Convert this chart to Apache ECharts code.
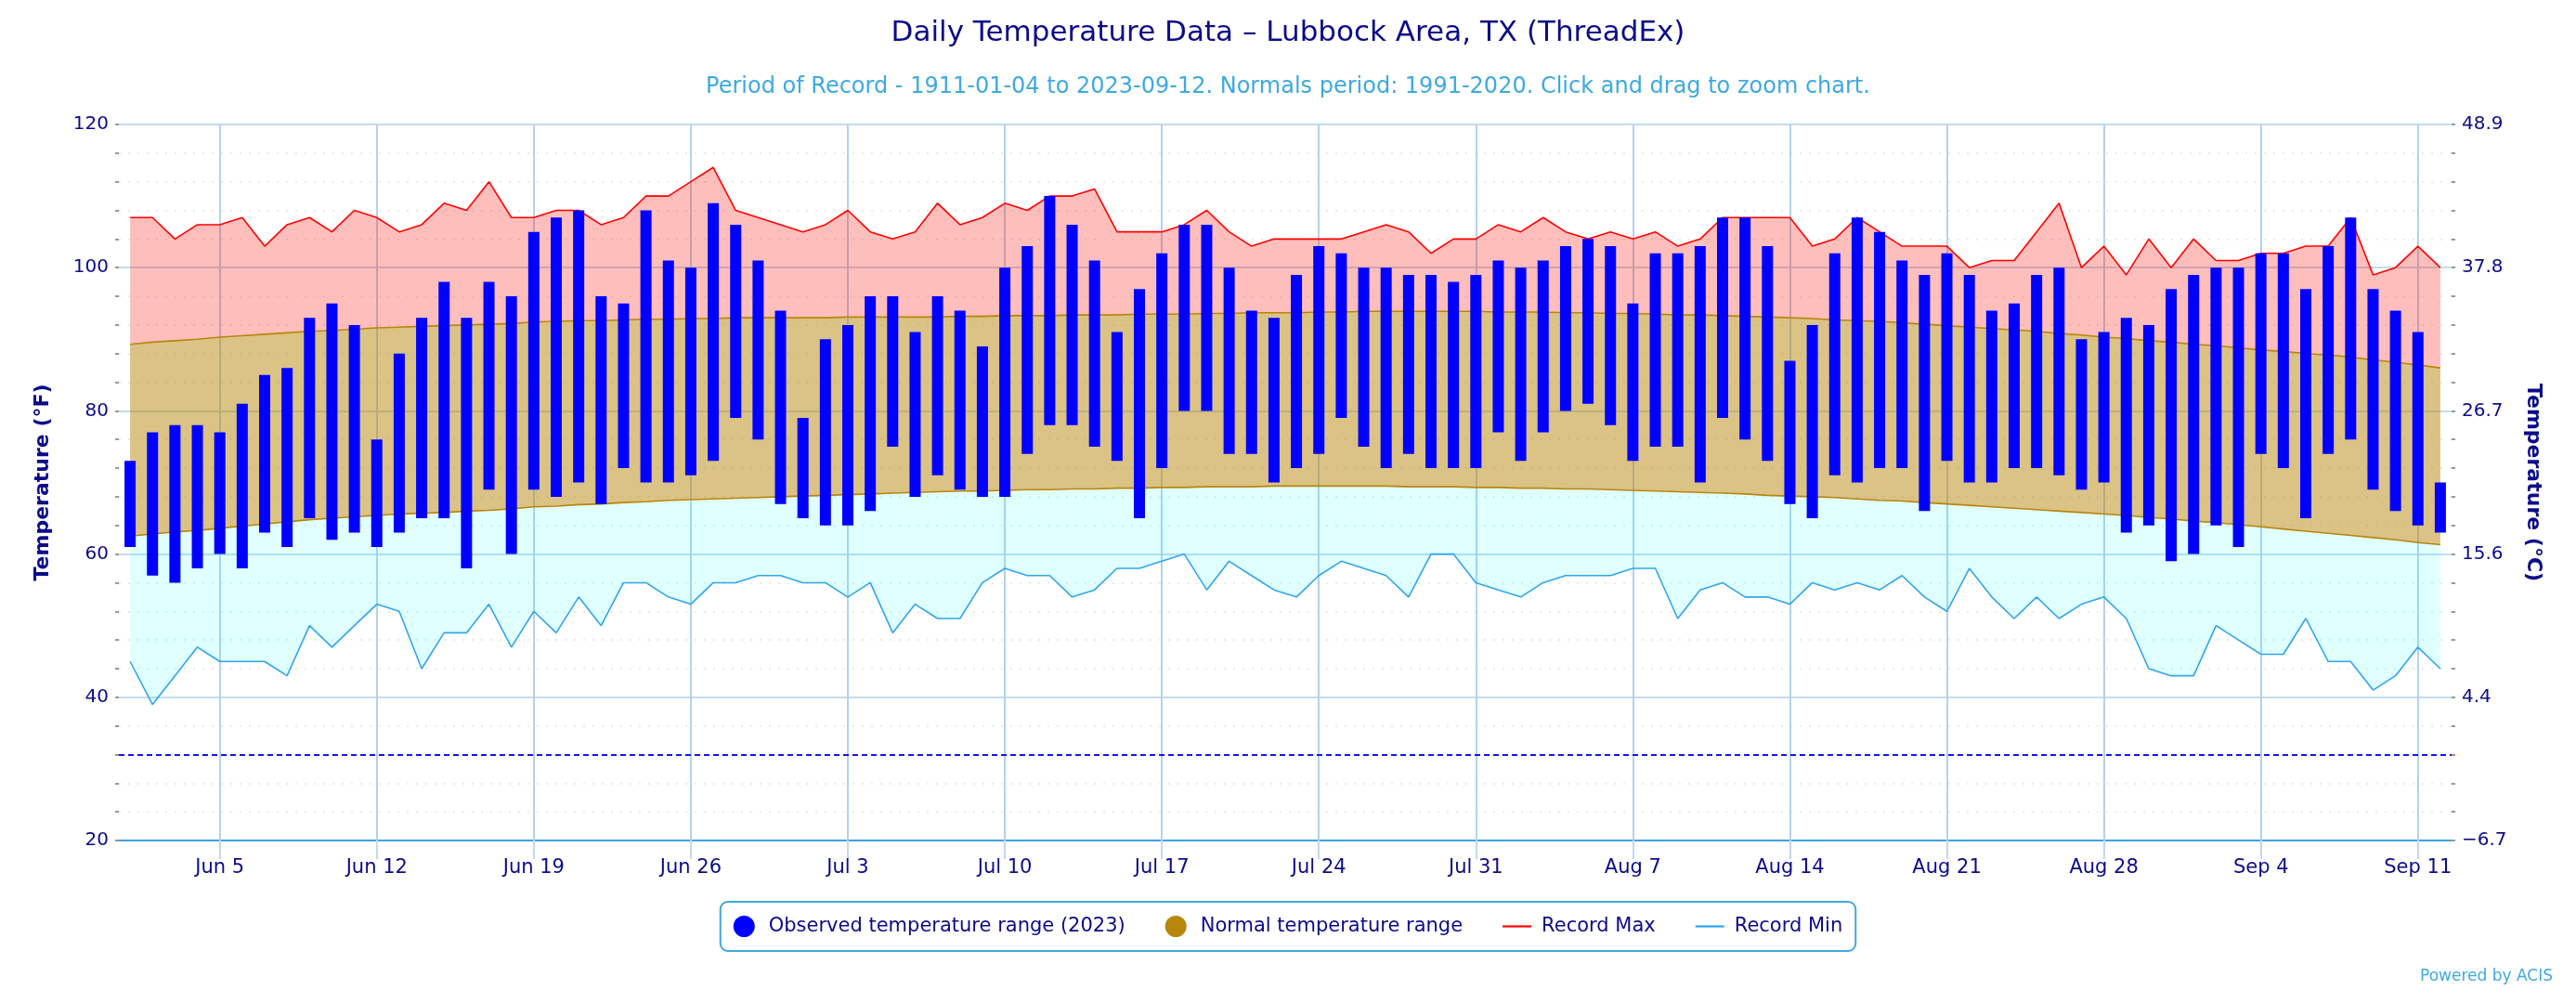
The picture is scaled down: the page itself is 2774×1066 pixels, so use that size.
<!DOCTYPE html>
<html><head><meta charset="utf-8">
<script src="https://cdn.jsdelivr.net/npm/echarts@6/dist/echarts.min.js"></script>
<style>html,body{margin:0;padding:0;background:#fff}#c{width:2774px;height:1066px}</style>
</head><body><div id="c"></div>
<script>
const categories = [
'Jun 1','Jun 2','Jun 3','Jun 4','Jun 5','Jun 6','Jun 7','Jun 8','Jun 9','Jun 10','Jun 11','Jun 12','Jun 13','Jun 14','Jun 15','Jun 16','Jun 17','Jun 18','Jun 19','Jun 20','Jun 21','Jun 22','Jun 23','Jun 24','Jun 25','Jun 26','Jun 27','Jun 28','Jun 29','Jun 30',
'Jul 1','Jul 2','Jul 3','Jul 4','Jul 5','Jul 6','Jul 7','Jul 8','Jul 9','Jul 10','Jul 11','Jul 12','Jul 13','Jul 14','Jul 15','Jul 16','Jul 17','Jul 18','Jul 19','Jul 20','Jul 21','Jul 22','Jul 23','Jul 24','Jul 25','Jul 26','Jul 27','Jul 28','Jul 29','Jul 30','Jul 31',
'Aug 1','Aug 2','Aug 3','Aug 4','Aug 5','Aug 6','Aug 7','Aug 8','Aug 9','Aug 10','Aug 11','Aug 12','Aug 13','Aug 14','Aug 15','Aug 16','Aug 17','Aug 18','Aug 19','Aug 20','Aug 21','Aug 22','Aug 23','Aug 24','Aug 25','Aug 26','Aug 27','Aug 28','Aug 29','Aug 30','Aug 31',
'Sep 1','Sep 2','Sep 3','Sep 4','Sep 5','Sep 6','Sep 7','Sep 8','Sep 9','Sep 10','Sep 11','Sep 12'];
const weekTicks = ['Jun 5','Jun 12','Jun 19','Jun 26','Jul 3','Jul 10','Jul 17','Jul 24','Jul 31','Aug 7','Aug 14','Aug 21','Aug 28','Sep 4','Sep 11'];
const yTicksF = [20, 40, 60, 80, 100, 120];

const obsHigh = [73,77,78,78,77,81,85,86,93,95,92,76,88,93,98,93,98,96,
105,107,108,96,95,108,101,100,109,106,101,94,79,90,92,96,96,91,96,
94,89,100,103,110,106,101,91,97,102,106,106,100,94,93,99,103,102,100,100,
99,99,98,99,101,100,101,103,104,103,95,102,102,103,107,107,103,87,92,102,
107,105,101,99,102,99,94,95,99,100,90,91,93,92,97,99,100,100,102,102,
97,103,107,97,94,91,70];
const obsLow = [61,57,56,58,60,58,63,61,65,62,63,61,63,65,65,58,69,60,
69,68,70,67,72,70,70,71,73,79,76,67,65,64,64,66,75,68,71,
69,68,68,74,78,78,75,73,65,72,80,80,74,74,70,72,74,79,75,72,
74,72,72,72,77,73,77,80,81,78,73,75,75,70,79,76,73,67,65,71,
70,72,72,66,73,70,70,72,72,71,69,70,63,64,59,60,64,61,74,72,
65,74,76,69,66,64,63];
const recMax = [107,107,104,106,106,107,103,106,107,105,108,107,105,106,109,108,112,107,
107,108,108,106,107,110,110,112,114,108,107,106,105,106,108,105,104,105,109,
106,107,109,108,110,110,111,105,105,105,106,108,105,103,104,104,104,104,105,106,
105,102,104,104,106,105,107,105,104,105,104,105,103,104,107,107,107,107,103,104,
107,105,103,103,103,100,101,101,105,109,100,103,99,104,100,104,101,101,102,102,
103,103,107,99,100,103,100];
const recMin = [45,39,43,47,45,45,45,43,50,47,50,53,52,44,49,49,53,47,
52,49,54,50,56,56,54,53,56,56,57,57,56,56,54,56,49,53,51,
51,56,58,57,57,54,55,58,58,59,60,55,59,57,55,54,57,59,58,57,
54,60,60,56,55,54,56,57,57,57,58,58,51,55,56,54,54,53,56,55,
56,55,57,54,52,58,54,51,54,51,53,54,51,44,43,43,50,48,46,46,
51,45,45,41,43,47,44];
const normHigh = [89.3,89.6,89.8,90.0,90.3,90.5,90.7,90.9,91.1,91.2,
91.4,91.6,91.7,91.8,91.9,92.0,92.1,92.2,92.4,92.5,
92.6,92.6,92.7,92.8,92.8,92.9,92.9,93.0,93.0,93.0,
93.0,93.0,93.1,93.1,93.1,93.1,93.1,93.2,93.2,93.3,
93.3,93.3,93.4,93.4,93.4,93.5,93.5,93.5,93.6,93.6,
93.7,93.7,93.7,93.8,93.8,93.9,93.9,93.9,93.9,93.9,
93.9,93.8,93.8,93.8,93.7,93.7,93.6,93.6,93.5,93.4,
93.4,93.3,93.2,93.1,93.0,92.9,92.7,92.6,92.5,92.3,
92.1,91.9,91.7,91.5,91.3,91.1,90.8,90.6,90.3,90.1,
89.8,89.6,89.3,89.1,88.8,88.5,88.3,88.0,87.8,87.5,
87.1,86.8,86.4,86.0];
const normLow = [62.5,62.8,63.1,63.3,63.6,63.9,64.2,64.5,64.8,65.0,
65.2,65.4,65.6,65.7,65.8,66.0,66.1,66.3,66.6,66.7,
66.9,67.0,67.2,67.3,67.5,67.6,67.7,67.8,67.9,68.0,
68.1,68.2,68.3,68.4,68.5,68.6,68.7,68.8,68.8,68.9,
69.0,69.0,69.1,69.1,69.2,69.2,69.3,69.3,69.4,69.4,
69.4,69.5,69.5,69.5,69.5,69.5,69.5,69.4,69.4,69.4,
69.3,69.3,69.2,69.2,69.1,69.1,69.0,68.9,68.8,68.7,
68.6,68.5,68.4,68.2,68.1,68.0,67.9,67.7,67.5,67.4,
67.2,67.0,66.8,66.6,66.4,66.2,66.0,65.8,65.6,65.4,
65.1,64.9,64.6,64.4,64.1,63.8,63.5,63.2,62.9,62.6,
62.3,62.0,61.6,61.3];
const freezingF = 32;

const r2 = v => Math.round(v * 100) / 100;
const minBand = normLow.map((v, i) => r2(v - recMin[i]));
const normBand = normHigh.map((v, i) => r2(v - normLow[i]));
const maxBand = recMax.map((v, i) => r2(v - normHigh[i]));
const obsSpan = obsHigh.map((v, i) => v - obsLow[i]);

const NAVY = '#0b0b8b';
const FONT = 'DejaVu Sans';
const LINE_ICON = 'path://M0,0 L31,0 L31,2.2 L0,2.2 Z';
const chart = echarts.init(document.getElementById('c'), null, {renderer: 'canvas'});
chart.setOption({
  animation: false,
  backgroundColor: '#ffffff',
  textStyle: {fontFamily: FONT},
  title: [
    {text: 'Daily Temperature Data \u2013 Lubbock Area, TX (ThreadEx)', left: 'center', top: 15,
     textStyle: {fontSize: 31, fontWeight: 'normal', color: NAVY, fontFamily: FONT}},
    {text: 'Period of Record - 1911-01-04 to 2023-09-12. Normals period: 1991-2020. Click and drag to zoom chart.',
     left: 'center', top: 77, textStyle: {fontSize: 24, fontWeight: 'normal', color: '#3da9e3', fontFamily: FONT}},
    {text: 'Powered by ACIS', right: 20, top: 1038,
     textStyle: {fontSize: 17, fontWeight: 'normal', color: '#3da9e3', fontFamily: FONT}}
  ],
  legend: {
    left: 'center', top: 971, orient: 'horizontal',
    padding: [15, 14, 15, 14], itemGap: 43, itemWidth: 31, itemHeight: 23,
    borderColor: '#3ea8e2', borderWidth: 2, borderRadius: 8,
    selectedMode: false, symbolKeepAspect: true,
    textStyle: {fontSize: 21, color: NAVY, fontFamily: FONT, padding: [0, 0, 0, 6]},
    data: [
      {name: 'Observed temperature range (2023)', icon: 'circle'},
      {name: 'Normal temperature range', icon: 'circle'},
      {name: 'Record Max', icon: LINE_ICON, itemStyle: {color: '#ff0000'}},
      {name: 'Record Min', icon: LINE_ICON, itemStyle: {color: '#2ea6ee'}}
    ]
  },
  grid: {left: 128, right: 134, top: 134, bottom: 161, containLabel: false},
  xAxis: {
    type: 'category', data: categories, boundaryGap: true,
    axisLine: {show: true, lineStyle: {color: '#3ea3e0', width: 2}},
    axisTick: {show: true, alignWithLabel: true, length: 20,
      interval: (idx, val) => weekTicks.includes(val),
      lineStyle: {color: '#c3d8ee', width: 2}},
    axisLabel: {interval: (idx, val) => weekTicks.includes(val), margin: 19,
      fontSize: 21, color: NAVY, fontFamily: FONT},
    splitLine: {show: false}
  },
  yAxis: [
    {type: 'value', min: yTicksF[0], max: yTicksF[yTicksF.length - 1], interval: 20, position: 'left',
     name: 'Temperature (\u00b0F)', nameLocation: 'middle', nameGap: 71, nameRotate: 90,
     nameTextStyle: {fontSize: 22, fontWeight: 'bold', color: NAVY, fontFamily: FONT},
     axisLine: {show: false},
     axisTick: {show: true, length: 4, lineStyle: {color: '#999', width: 2}},
     minorTick: {show: true, splitNumber: 5, length: 4, lineStyle: {color: '#999', width: 2}},
     axisLabel: {fontSize: 20, color: NAVY, margin: 11, fontFamily: FONT},
     splitLine: {show: true, lineStyle: {color: '#aed0ea', width: 1.5}},
     minorSplitLine: {show: true, lineStyle: {color: '#e4e4e4', width: 1.5, type: [2, 8]}}
    },
    {type: 'value', min: yTicksF[0], max: yTicksF[yTicksF.length - 1], interval: 20, position: 'right',
     name: 'Temperature (\u00b0C)', nameLocation: 'middle', nameGap: 77, nameRotate: -90,
     nameTextStyle: {fontSize: 22, fontWeight: 'bold', color: NAVY, fontFamily: FONT},
     axisLine: {show: false},
     axisTick: {show: true, length: 4, lineStyle: {color: '#999', width: 2}},
     minorTick: {show: true, splitNumber: 5, length: 4, lineStyle: {color: '#999', width: 2}},
     axisLabel: {fontSize: 20, color: NAVY, margin: 11, fontFamily: FONT,
       formatter: v => ((v - 32) * 5 / 9).toFixed(1).replace('-', '\u2212')},
     splitLine: {show: false}
    }
  ],
  series: [
    {name: 'Record Min', type: 'line', stack: 'rec', data: recMin, symbol: 'none', silent: true,
     lineStyle: {color: '#2ea6ee', width: 1.6}, itemStyle: {color: '#2ea6ee'}},
    {name: 'minBand', type: 'line', stack: 'rec', data: minBand, symbol: 'none', silent: true,
     lineStyle: {color: '#b8860b', width: 1.6}, itemStyle: {color: '#b8860b'},
     areaStyle: {color: 'rgba(0,255,255,0.12)', opacity: 1},
     markLine: {silent: true, symbol: 'none', z: 1, label: {show: false}, animation: false,
       lineStyle: {color: '#b3d2ec', width: 2, type: 'solid'},
       data: weekTicks.map(d => ({xAxis: d})).concat([
         {yAxis: freezingF, lineStyle: {color: '#1414ee', width: 2, type: [6, 4]}}])}},
    {name: 'Normal temperature range', type: 'line', stack: 'rec', data: normBand, symbol: 'none', silent: true,
     lineStyle: {color: '#b8860b', width: 1.6}, itemStyle: {color: '#b8860b'},
     areaStyle: {color: 'rgba(184,134,11,0.5)', opacity: 1}},
    {name: 'Record Max', type: 'line', stack: 'rec', data: maxBand, symbol: 'none', silent: true,
     lineStyle: {color: '#ff0000', width: 1.6}, itemStyle: {color: '#ff0000'},
     areaStyle: {color: 'rgba(250,20,10,0.28)', opacity: 1}},
    {name: 'obsBase', type: 'bar', stack: 'obs', data: obsLow, barWidth: 12, silent: true, z: 5,
     itemStyle: {color: 'rgba(0,0,0,0)'}},
    {name: 'Observed temperature range (2023)', type: 'bar', stack: 'obs', data: obsSpan, barWidth: 12, z: 5,
     itemStyle: {color: '#0000ff'}}
  ]
});
</script>
</body></html>
